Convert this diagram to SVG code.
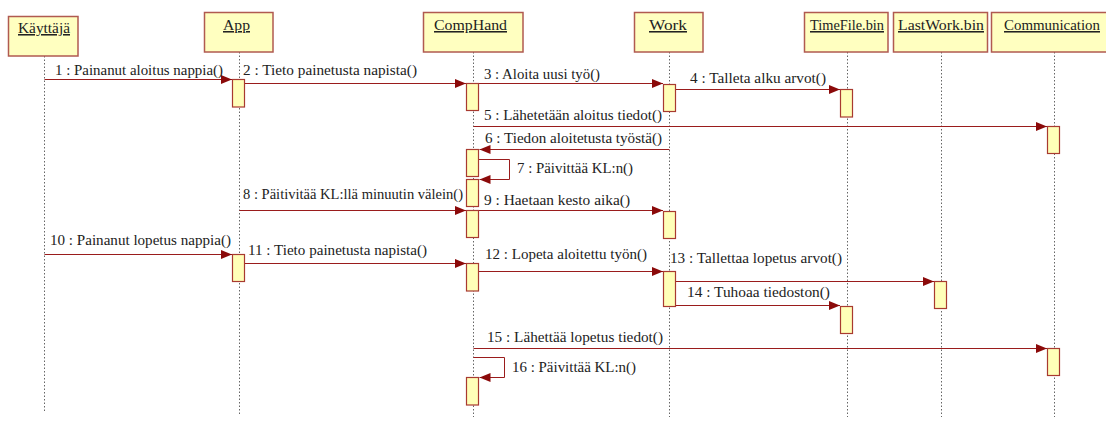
<svg xmlns="http://www.w3.org/2000/svg" width="1106" height="421" viewBox="0 0 1106 421">
  <style>
    .head { fill: #ffffc0; stroke: #b05a50; stroke-width: 1.5; }
    .act { fill: #ffffb8; stroke: #a83a30; stroke-width: 1.2; }
    .life { stroke: #666; stroke-width: 1; stroke-dasharray: 1.5 2; fill: none; }
    .msg { stroke: #9a1c1c; stroke-width: 1; fill: none; }
    .title { font-size: 15.5px; fill: #222; text-decoration: underline; }
    .lbl { font-size: 15px; fill: #222; }
  </style>
  <defs>
    <marker id="arrow" markerUnits="userSpaceOnUse" markerWidth="12" markerHeight="10" refX="11" refY="4.5" orient="auto">
      <path d="M0,0 L11,4.5 L0,9 z" fill="#8b0a0a"/>
    </marker>
  </defs>
  <rect width="1106" height="421" fill="#ffffff"/>

  <!-- lifelines -->
  <g id="lifelines">
    <line class="life" x1="44.5" y1="56" x2="44.5" y2="413"/>
    <line class="life" x1="239.5" y1="52" x2="239.5" y2="416"/>
    <line class="life" x1="473.5" y1="52" x2="473.5" y2="417"/>
    <line class="life" x1="669.5" y1="52" x2="669.5" y2="417"/>
    <line class="life" x1="847.5" y1="52" x2="847.5" y2="417"/>
    <line class="life" x1="941.5" y1="52" x2="941.5" y2="417"/>
    <line class="life" x1="1054.5" y1="52" x2="1054.5" y2="417"/>
  </g>

  <!-- object heads -->
  <g font-family="'Liberation Serif', 'Times New Roman', Times, serif">
    <g id="kayttaja">
      <rect class="head" x="8.5" y="16.5" width="69.5" height="39.5"/>
      <text class="title" x="18" y="33" textLength="52" lengthAdjust="spacingAndGlyphs">Käyttäjä</text>
    </g>
    <g id="app">
      <rect class="head" x="204.5" y="12.5" width="68.5" height="39.5"/>
      <text class="title" x="223" y="30" textLength="27" lengthAdjust="spacingAndGlyphs">App</text>
    </g>
    <g id="comphand">
      <rect class="head" x="423.5" y="12.5" width="99.5" height="39.5"/>
      <text class="title" x="434" y="30" textLength="73" lengthAdjust="spacingAndGlyphs">CompHand</text>
    </g>
    <g id="work">
      <rect class="head" x="634.5" y="12.5" width="68.5" height="39.5"/>
      <text class="title" x="649" y="30" textLength="38" lengthAdjust="spacingAndGlyphs">Work</text>
    </g>
    <g id="timefile">
      <rect class="head" x="804.5" y="12.5" width="83.5" height="39.5"/>
      <text class="title" x="810" y="30" textLength="74" lengthAdjust="spacingAndGlyphs">TimeFile.bin</text>
    </g>
    <g id="lastwork">
      <rect class="head" x="893.5" y="12.5" width="94" height="39.5"/>
      <text class="title" x="898" y="30" textLength="86" lengthAdjust="spacingAndGlyphs">LastWork.bin</text>
    </g>
    <g id="communication">
      <rect class="head" x="991.5" y="12.5" width="116" height="39.5"/>
      <text class="title" x="1004" y="30" textLength="96" lengthAdjust="spacingAndGlyphs">Communication</text>
    </g>
  </g>

  <!-- activation bars -->
  <g id="activations">
    <rect class="act" x="232.5" y="79.5" width="12" height="27.5"/>
    <rect class="act" x="466.5" y="83.5" width="12" height="27"/>
    <rect class="act" x="663.5" y="84.5" width="12" height="27"/>
    <rect class="act" x="840.5" y="89.5" width="12" height="27.5"/>
    <rect class="act" x="1047.5" y="126.5" width="12" height="27"/>
    <rect class="act" x="466.5" y="149.5" width="12" height="27"/>
    <rect class="act" x="466.5" y="179.5" width="12" height="27"/>
    <rect class="act" x="466.5" y="210.5" width="12" height="27"/>
    <rect class="act" x="663.5" y="211.5" width="12" height="27"/>
    <rect class="act" x="232.5" y="254.5" width="12" height="27"/>
    <rect class="act" x="466.5" y="263.5" width="12" height="27.5"/>
    <rect class="act" x="663.5" y="271.5" width="12" height="35"/>
    <rect class="act" x="934.5" y="281.5" width="12" height="27"/>
    <rect class="act" x="840.5" y="306.5" width="12" height="27"/>
    <rect class="act" x="1047.5" y="348.5" width="12" height="27"/>
    <rect class="act" x="466.5" y="377.5" width="12" height="27.5"/>
  </g>

  <!-- messages -->
  <g id="connectors">
    <line class="msg" x1="44.5" y1="79.5" x2="232" y2="79.5" marker-end="url(#arrow)"/>
    <line class="msg" x1="245" y1="83.5" x2="466" y2="83.5" marker-end="url(#arrow)"/>
    <line class="msg" x1="479" y1="83.5" x2="663" y2="83.5" marker-end="url(#arrow)"/>
    <line class="msg" x1="676" y1="89.5" x2="840" y2="89.5" marker-end="url(#arrow)"/>
    <line class="msg" x1="473.5" y1="126.5" x2="1047" y2="126.5" marker-end="url(#arrow)"/>
    <line class="msg" x1="669.5" y1="149.5" x2="479.5" y2="149.5" marker-end="url(#arrow)"/>
    <polyline class="msg" points="479,159.5 509.5,159.5 509.5,179.5 479.5,179.5" marker-end="url(#arrow)"/>
    <line class="msg" x1="239.5" y1="210.5" x2="466" y2="210.5" marker-end="url(#arrow)"/>
    <line class="msg" x1="479" y1="210.5" x2="663" y2="210.5" marker-end="url(#arrow)"/>
    <line class="msg" x1="44.5" y1="254.5" x2="232" y2="254.5" marker-end="url(#arrow)"/>
    <line class="msg" x1="245" y1="263.5" x2="466" y2="263.5" marker-end="url(#arrow)"/>
    <line class="msg" x1="479" y1="271.5" x2="663" y2="271.5" marker-end="url(#arrow)"/>
    <line class="msg" x1="676" y1="281.5" x2="934" y2="281.5" marker-end="url(#arrow)"/>
    <line class="msg" x1="676" y1="305.5" x2="840" y2="305.5" marker-end="url(#arrow)"/>
    <line class="msg" x1="473.5" y1="348.5" x2="1047" y2="348.5" marker-end="url(#arrow)"/>
    <polyline class="msg" points="473.5,357.5 504.5,357.5 504.5,377.5 479.5,377.5" marker-end="url(#arrow)"/>
  </g>

  <!-- message labels -->
  <g id="labels" font-family="'Liberation Serif', 'Times New Roman', Times, serif">
    <text class="lbl" x="55" y="75" textLength="168" lengthAdjust="spacingAndGlyphs">1 : Painanut aloitus nappia()</text>
    <text class="lbl" x="243" y="75" textLength="174" lengthAdjust="spacingAndGlyphs">2 : Tieto painetusta napista()</text>
    <text class="lbl" x="484" y="79" textLength="116" lengthAdjust="spacingAndGlyphs">3 : Aloita uusi työ()</text>
    <text class="lbl" x="690" y="83" textLength="136" lengthAdjust="spacingAndGlyphs">4 : Talleta alku arvot()</text>
    <text class="lbl" x="484" y="120" textLength="178" lengthAdjust="spacingAndGlyphs">5 : Lähetetään aloitus tiedot()</text>
    <text class="lbl" x="485" y="143" textLength="177" lengthAdjust="spacingAndGlyphs">6 : Tiedon aloitetusta työstä()</text>
    <text class="lbl" x="517" y="173" textLength="116" lengthAdjust="spacingAndGlyphs">7 : Päivittää KL:n()</text>
    <text class="lbl" x="243" y="199" textLength="220" lengthAdjust="spacingAndGlyphs">8 : Päitivitää KL:llä minuutin välein()</text>
    <text class="lbl" x="484" y="205" textLength="146" lengthAdjust="spacingAndGlyphs">9 : Haetaan kesto aika()</text>
    <text class="lbl" x="50" y="245" textLength="181" lengthAdjust="spacingAndGlyphs">10 : Painanut lopetus nappia()</text>
    <text class="lbl" x="248" y="255" textLength="179" lengthAdjust="spacingAndGlyphs">11 : Tieto painetusta napista()</text>
    <text class="lbl" x="485" y="259" textLength="162" lengthAdjust="spacingAndGlyphs">12 : Lopeta aloitettu työn()</text>
    <text class="lbl" x="670" y="263" textLength="172" lengthAdjust="spacingAndGlyphs">13 : Tallettaa lopetus arvot()</text>
    <text class="lbl" x="687" y="297" textLength="143" lengthAdjust="spacingAndGlyphs">14 : Tuhoaa tiedoston()</text>
    <text class="lbl" x="487" y="342" textLength="176" lengthAdjust="spacingAndGlyphs">15 : Lähettää lopetus tiedot()</text>
    <text class="lbl" x="512" y="372" textLength="124" lengthAdjust="spacingAndGlyphs">16 : Päivittää KL:n()</text>
  </g>
</svg>
